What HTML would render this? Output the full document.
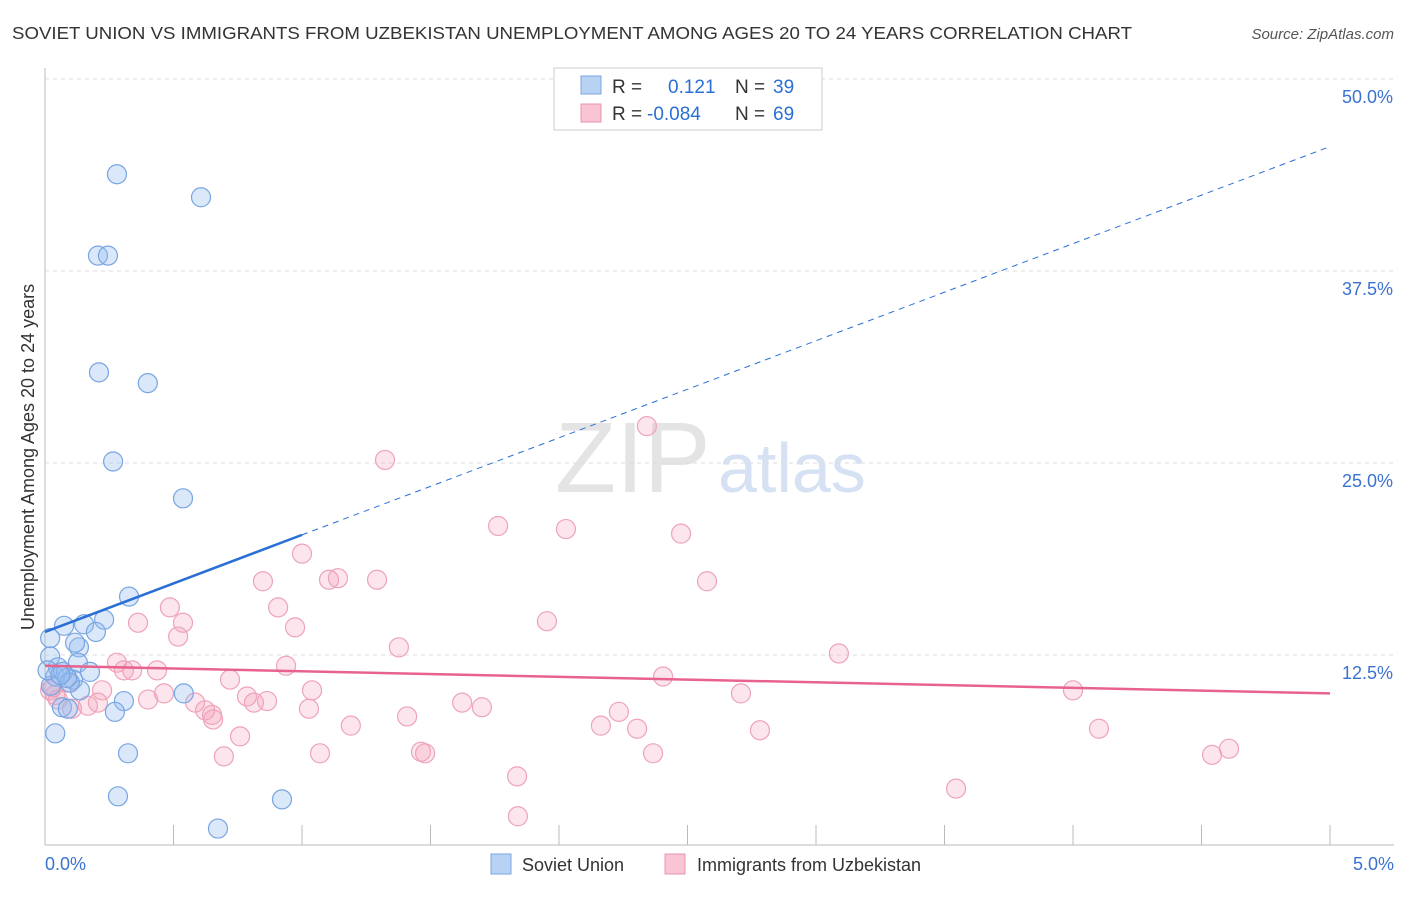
<!DOCTYPE html>
<html><head><meta charset="utf-8"><style>
body{margin:0;background:#fff;font-family:"Liberation Sans",sans-serif}
svg text{font-family:"Liberation Sans",sans-serif}
</style></head><body>
<svg id="c" width="1406" height="892" xmlns="http://www.w3.org/2000/svg">
<text x="12" y="39" font-size="17.5" fill="#333" textLength="1120" lengthAdjust="spacingAndGlyphs">SOVIET UNION VS IMMIGRANTS FROM UZBEKISTAN UNEMPLOYMENT AMONG AGES 20 TO 24 YEARS CORRELATION CHART</text>
<text x="1394" y="39" font-size="15" fill="#555" font-style="italic" text-anchor="end">Source: ZipAtlas.com</text>
<text x="555" y="492" font-size="100" fill="#e4e4e4" font-family="Liberation Serif">ZIP</text>
<text x="718" y="492" font-size="70" fill="#d6e2f3">atlas</text>
<text transform="translate(34,457) rotate(-90)" font-size="18" fill="#333" text-anchor="middle">Unemployment Among Ages 20 to 24 years</text>
<g id="grid"></g><g id="marks"></g>
<rect x="554" y="68" width="268" height="62" fill="#fff" stroke="#ccc"/>
<rect x="581" y="76" width="20" height="18" fill="#b8d2f4" stroke="#7aa6e0"/>
<rect x="581" y="104" width="20" height="18" fill="#f9c5d4" stroke="#eb93ad"/>
<text font-size="19"><tspan x="612" y="93" fill="#333">R =</tspan><tspan x="668" y="93" fill="#2a6fd6">0.121</tspan><tspan x="735" y="93" fill="#333">N =</tspan><tspan x="773" y="93" fill="#2a6fd6">39</tspan></text>
<text font-size="19"><tspan x="612" y="120" fill="#333">R =</tspan><tspan x="647" y="120" fill="#2a6fd6">-0.084</tspan><tspan x="735" y="120" fill="#333">N =</tspan><tspan x="773" y="120" fill="#2a6fd6">69</tspan></text>
<rect x="491" y="854" width="20" height="20" fill="#b8d2f4" stroke="#7aa6e0"/>
<text x="522" y="871" font-size="18" fill="#333">Soviet Union</text>
<rect x="665" y="854" width="20" height="20" fill="#f9c5d4" stroke="#eb93ad"/>
<text x="697" y="871" font-size="18" fill="#333">Immigrants from Uzbekistan</text>
</svg>
<script>
const yTicks=[12.5,25,37.5,50];
const xTickLabels=["0.0%","5.0%"];
const blueX=[0.28,0.607,0.206,0.245,0.21,0.40,0.265,0.537,0.327,0.074,0.152,0.23,0.198,0.132,0.117,0.02,0.02,0.05,0.04,0.07,0.128,0.175,0.109,0.136,0.023,0.066,0.089,0.307,0.272,0.54,0.04,0.323,0.284,0.922,0.673,0.097,0.086,0.01,0.06];
const blueY=[43.8,42.3,38.5,38.5,30.9,30.2,25.1,22.7,16.3,14.4,14.5,14.8,14.0,13.0,13.3,13.6,12.4,11.7,11.1,11.4,12.0,11.4,10.9,10.2,10.5,9.1,9.0,9.5,8.8,10.0,7.4,6.1,3.3,3.1,1.2,10.7,11.0,11.5,11.2];
const pinkX=[2.342,1.323,1.763,2.027,2.475,1.0,0.848,1.105,1.14,1.292,2.576,0.486,0.907,0.362,0.537,1.953,0.973,0.518,1.377,3.089,0.28,0.307,0.339,0.436,0.938,0.72,2.405,0.222,0.463,1.039,0.786,2.708,4.0,0.401,0.584,0.813,0.864,1.623,1.70,1.027,0.623,0.65,0.654,1.409,2.233,1.19,2.163,2.304,4.101,2.782,0.759,1.07,1.463,1.479,2.366,0.696,4.607,4.541,1.837,3.545,1.84,0.167,0.206,0.105,0.04,0.05,0.02,0.09,0.03];
const pinkY=[27.4,25.2,20.9,20.7,20.4,19.1,17.3,17.4,17.5,17.4,17.3,15.6,15.6,14.6,14.6,14.7,14.3,13.7,13.0,12.6,12.0,11.5,11.5,11.5,11.8,10.9,11.1,10.2,10.0,10.2,9.8,10.0,10.2,9.6,9.4,9.4,9.5,9.4,9.1,9.0,8.9,8.6,8.3,8.5,8.8,7.9,7.9,7.7,7.7,7.6,7.2,6.1,6.2,6.1,6.1,5.9,6.4,6.0,4.6,3.8,2.0,9.2,9.4,9.0,9.9,9.6,10.2,10.7,10.4];
const blueTrend=[14.0,45.6];
const pinkTrend=[11.8,10.0];
const X=v=>45+v/5*1285, Y=v=>847-v/12.5*192;
const NS="http://www.w3.org/2000/svg";
const grid=document.getElementById('grid'),marks=document.getElementById('marks');
function mk(p,tag,a){const e=document.createElementNS(NS,tag);for(const k in a)e.setAttribute(k,a[k]);p.appendChild(e);return e;}
let ax=mk(grid,'line',{x1:45,y1:68,x2:45,y2:845,stroke:'#bbb'});


let bx=mk(grid,'line',{x1:45,y1:845,x2:1394,y2:845,stroke:'#bbb'});


yTicks.forEach(t=>{
 const g=mk(grid,'line',{x1:45,x2:1394,y1:Y(t),y2:Y(t),stroke:'#ddd','stroke-dasharray':'4,4'});
 
 
 const tx=mk(grid,'text',{x:1393,y:Y(t)+24,'font-size':18,fill:'#3a72d0','text-anchor':'end'});tx.textContent=t.toFixed(1)+'%';
 
 
});
for(let i=1;i<=10;i++){const t=mk(grid,'line',{x1:X(i*0.5),x2:X(i*0.5),y1:825,y2:845,stroke:'#bbb'});
 
 }
xTickLabels.forEach((l,i)=>{const t=mk(grid,'text',{x:i?1394:45,y:870,'font-size':18,fill:'#3a72d0','text-anchor':i?'end':'start'});t.textContent=l;
 
 });
pinkX.forEach((x,i)=>{const c=mk(marks,'circle',{cx:X(x),cy:Y(pinkY[i]),r:9.5,fill:'rgba(244,160,185,0.28)',stroke:'#eea3ba','stroke-width':1.2});
 
 });
blueX.forEach((x,i)=>{const c=mk(marks,'circle',{cx:X(x),cy:Y(blueY[i]),r:9.5,fill:'rgba(150,190,240,0.35)',stroke:'#78a5e2','stroke-width':1.2});
 
 });
const bm=blueTrend[0]+(blueTrend[1]-blueTrend[0])*0.2;
let l1=mk(marks,'line',{x1:X(0),y1:Y(blueTrend[0]),x2:X(1),y2:Y(bm),stroke:'#2a6fd6','stroke-width':2.5});


let l2=mk(marks,'line',{x1:X(1),y1:Y(bm),x2:X(5),y2:Y(blueTrend[1]),stroke:'#2a6fd6','stroke-width':1,'stroke-dasharray':'6,5'});


let l3=mk(marks,'line',{x1:X(0),y1:Y(pinkTrend[0]),x2:X(5),y2:Y(pinkTrend[1]),stroke:'#e8628e','stroke-width':2.5});


</script>
</body></html>
